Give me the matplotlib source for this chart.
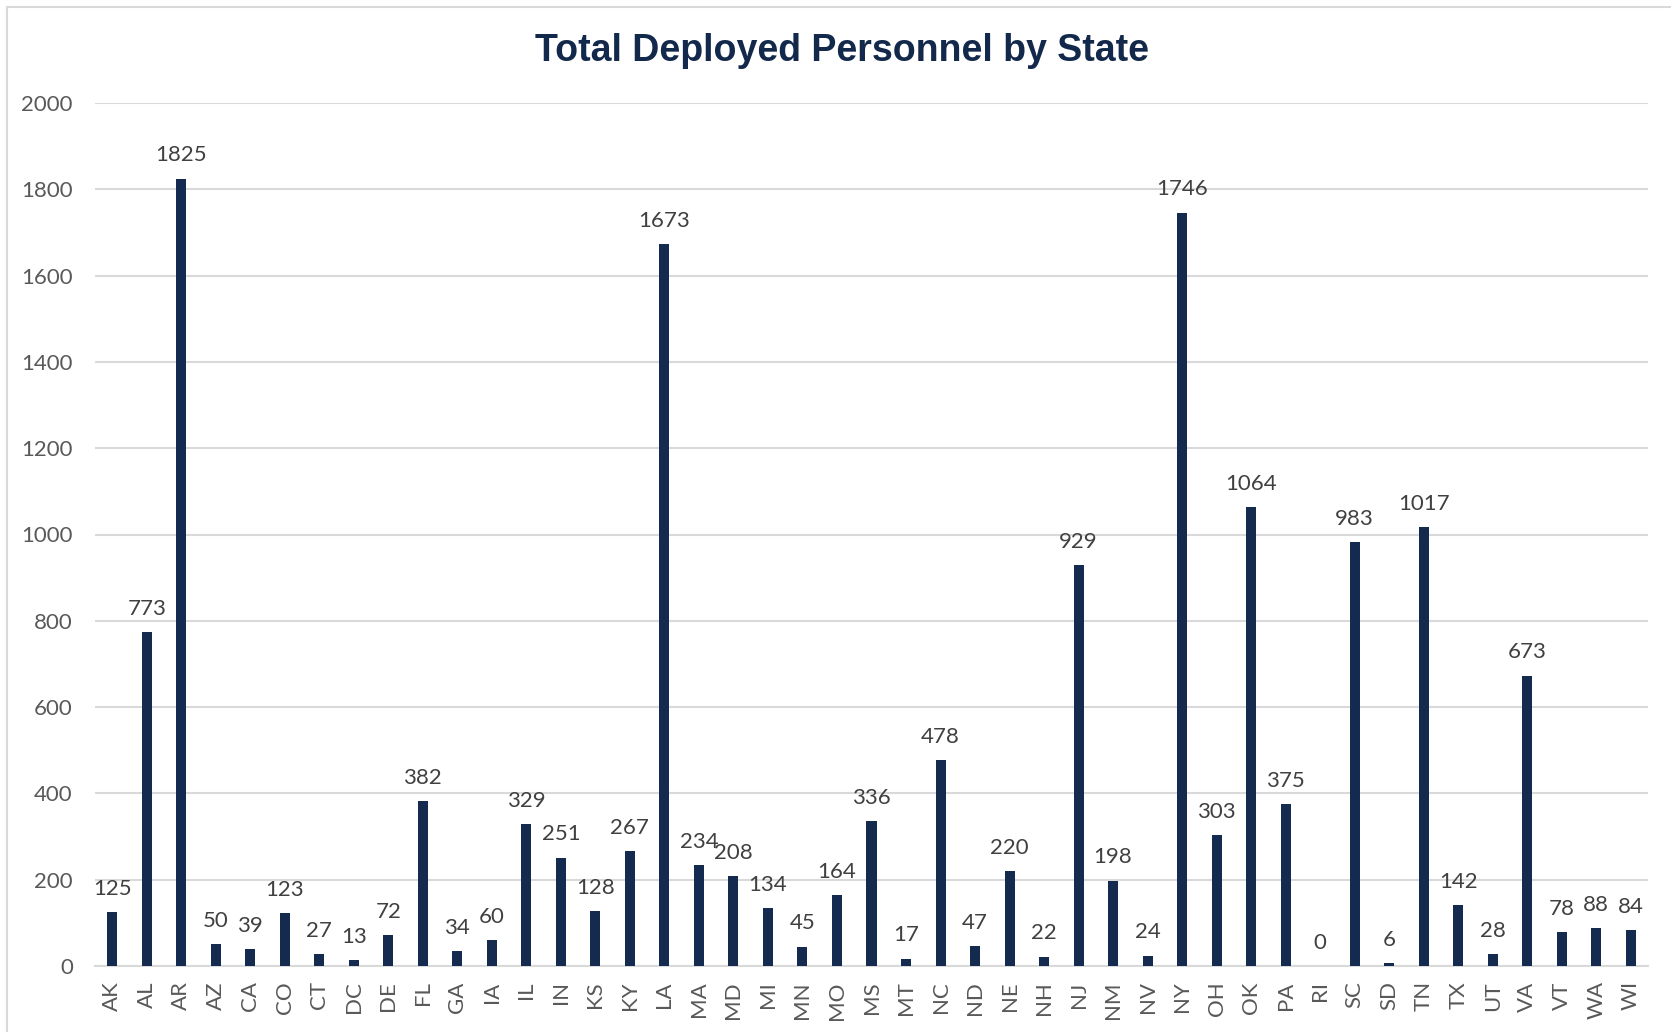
import numpy as np
import matplotlib.pyplot as plt
from matplotlib.patches import Rectangle

states = ['AK', 'AL', 'AR', 'AZ', 'CA', 'CO', 'CT', 'DC', 'DE', 'FL', 'GA', 'IA',
          'IL', 'IN', 'KS', 'KY', 'LA', 'MA', 'MD', 'MI', 'MN', 'MO', 'MS', 'MT',
          'NC', 'ND', 'NE', 'NH', 'NJ', 'NM', 'NV', 'NY', 'OH', 'OK', 'PA', 'RI',
          'SC', 'SD', 'TN', 'TX', 'UT', 'VA', 'VT', 'WA', 'WI']
personnel = [125, 773, 1825, 50, 39, 123, 27, 13, 72, 382, 34, 60,
             329, 251, 128, 267, 1673, 234, 208, 134, 45, 164, 336, 17,
             478, 47, 220, 22, 929, 198, 24, 1746, 303, 1064, 375, 0,
             983, 6, 1017, 142, 28, 673, 78, 88, 84]
yticks = [0, 200, 400, 600, 800, 1000, 1200, 1400, 1600, 1800, 2000]

navy = '#142B4F'
grid_col = '#d9d9d9'

fig = plt.figure(figsize=(16.71, 10.32), dpi=100)

# outer chart border (cropped on right and bottom like the screenshot)
fig.patches.append(Rectangle((7 / 1671, -0.05), 1.1, 1 - 7 / 1032 + 0.05,
                             transform=fig.transFigure, fill=False,
                             edgecolor=grid_col, linewidth=1.5))

ax = fig.add_axes([95 / 1671, 1 - 966 / 1032, (1648 - 95) / 1671, (966 - 103) / 1032])

x = np.arange(len(states))
bars = ax.bar(x, personnel, width=0.29, color=navy, zorder=3)

for xi, v in zip(x, personnel):
    ax.annotate(str(v), (xi, v), xytext=(0, 9.5), textcoords='offset points',
                ha='center', va='bottom', fontsize=16, color='#404040',
                family='Lato')

ax.set_xlim(-0.5, len(states) - 0.5)
ax.set_ylim(0, 2000)
ax.set_yticks(yticks)
ax.set_yticklabels([str(t) for t in yticks], fontsize=16, color='#595959', family='Lato')
ax.set_xticks(x)
ax.set_xticklabels(states, rotation=90, fontsize=16, color='#595959', family='Lato')
ax.tick_params(axis='both', length=0)
ax.tick_params(axis='x', pad=11)
ax.tick_params(axis='y', pad=16)

ax.grid(axis='y', color=grid_col, linewidth=1.5, zorder=0)
for s in ['top', 'right', 'left']:
    ax.spines[s].set_visible(False)
ax.spines['bottom'].set_color(grid_col)
ax.spines['bottom'].set_linewidth(1.5)

fig.text(842 / 1671, 1 - 51 / 1032, 'Total Deployed Personnel by State',
         ha='center', va='center', fontsize=27, fontweight='bold',
         color='#13294B', family='Liberation Sans')

plt.savefig('out.png', dpi=100)
